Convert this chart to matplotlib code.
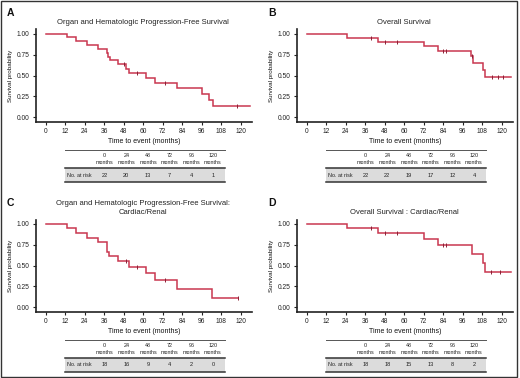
import matplotlib
matplotlib.use("Agg")
import matplotlib.pyplot as plt
from matplotlib.lines import Line2D
from matplotlib.patches import Rectangle
import numpy as np

# ---------------- data ----------------
titles = [
    "Organ and Hematologic Progression-Free Survival",
    "Overall Survival",
    "Organ and Hematologic Progression-Free Survival:\nCardiac/Renal",
    "Overall Survival : Cardiac/Renal",
]
panel_labels = ["A", "B", "C", "D"]

times_A = [0, 13.3, 18.6, 25.2, 32, 37.5, 38.6, 39.6, 44.7, 49.4, 51.5, 61.7, 67.3, 81, 96, 100.7, 102.8]
surv_A = [1.0, 0.955, 0.909, 0.864, 0.818, 0.773, 0.727, 0.682, 0.636, 0.58, 0.526, 0.474, 0.407, 0.347, 0.275, 0.206, 0.139]
cens_A = [48, 56, 73.6, 118]
end_A = 126

times_B = [0, 24.6, 44, 72.2, 81, 100.9, 102.1, 108.3, 109.7]
surv_B = [1.0, 0.95, 0.905, 0.853, 0.797, 0.735, 0.646, 0.57, 0.485]
cens_B = [39.6, 48.2, 55.8, 83.7, 85.5, 101.5, 113.8, 117.9, 121]
end_B = 126

times_C = [0, 13.3, 18.6, 25.2, 32, 37.5, 39, 44.7, 51.5, 61.7, 67.3, 81, 102.5]
surv_C = [1.0, 0.944, 0.889, 0.833, 0.778, 0.667, 0.611, 0.556, 0.486, 0.406, 0.325, 0.217, 0.11]
cens_C = [49.4, 56, 73.6, 118.3]
end_C = 118.3

times_D = [0, 25, 44, 72.2, 81, 102, 108.3, 109.7]
surv_D = [1.0, 0.944, 0.889, 0.817, 0.745, 0.638, 0.532, 0.426]
cens_D = [39.6, 48.2, 55.8, 83.7, 85.5, 113.6, 118.7]
end_D = 126

risk_times = [0, 24, 48, 72, 96, 120]
risk_A = [22, 20, 13, 7, 4, 1]
risk_B = [22, 22, 19, 17, 12, 4]
risk_C = [18, 16, 9, 4, 2, 0]
risk_D = [18, 18, 15, 13, 8, 2]

x_ticks = [0, 12, 24, 36, 48, 60, 72, 84, 96, 108, 120]
y_ticks = [0.0, 0.25, 0.5, 0.75, 1.0]
y_ticklabels = ["0.00", "0.25", "0.50", "0.75", "1.00"]

panels = [
    (times_A, surv_A, cens_A, end_A, risk_A),
    (times_B, surv_B, cens_B, end_B, risk_B),
    (times_C, surv_C, cens_C, end_C, risk_C),
    (times_D, surv_D, cens_D, end_D, risk_D),
]
offsets = [(0, 0), (261, 0), (0, 190), (261, 190)]

# ---------------- figure ----------------
W, H = 520, 378
fig = plt.figure(figsize=(W / 100, H / 100), dpi=100)
fig.patch.set_facecolor("white")

SANS = ["Liberation Sans", "DejaVu Sans"]
RED = "#c9374f"


def fx(x):
    return x / W


def fy(y):
    return 1 - y / H


for i, ((t, s, c, end, risk), (ox, oy)) in enumerate(zip(panels, offsets)):
    left, right = ox + 36, ox + 252
    top, bottom = oy + 29.5, oy + 121.5
    ax = fig.add_axes([fx(left), fy(bottom), (right - left) / W, (bottom - top) / H])
    ax.set_xlim(-6, 127)
    ax.set_ylim(-0.05, 1.05)
    tt = list(t) + [end]
    ss = list(s) + [s[-1]]
    ax.step(tt, ss, where="post", color=RED, lw=1.1, solid_joinstyle="miter")
    cy = [s[np.searchsorted(t, ci, side="right") - 1] for ci in c]
    ax.plot(c, cy, ls="none", marker="|", ms=3, mew=0.7, color="#8a1f35")
    for sp in ["top", "right"]:
        ax.spines[sp].set_visible(False)
    for sp in ["left", "bottom"]:
        ax.spines[sp].set_linewidth(1.2)
        ax.spines[sp].set_color("#222222")
    ax.set_xticks(x_ticks)
    ax.set_xticklabels([str(v) for v in x_ticks], fontfamily=SANS, fontsize=4.8)
    ax.set_yticks(y_ticks)
    ax.set_yticklabels(y_ticklabels, fontfamily=SANS, fontsize=4.8)
    ax.tick_params(axis="both", length=2.5, width=0.8, pad=2, colors="#222222",
                   labelcolor="#222222")
    ax.set_xlabel("Time to event (months)", fontfamily=SANS, fontsize=5.0,
                  labelpad=2.5, color="#111111")
    ax.set_ylabel("Survival probability", fontfamily=SANS, fontsize=4.5,
                  labelpad=3, color="#111111")
    ax.set_facecolor("none")

    # title
    if "\n" in titles[i]:
        fig.text(fx(ox + 143), fy(oy + 18), titles[i], ha="center", va="center",
                 fontfamily=SANS, fontsize=5.5, linespacing=1.35, color="#222222")
    else:
        fig.text(fx(ox + 143), fy(oy + 23), titles[i], ha="center", va="center",
                 fontfamily=SANS, fontsize=5.5, color="#222222")
    # panel label
    fig.text(fx(ox + 7), fy(oy + 13), panel_labels[i], ha="left", va="center",
             fontfamily=SANS, fontsize=7.5, fontweight="bold", color="#111111")

    # risk table
    tl, tr = ox + 65, ox + 225
    fig.patches.append(Rectangle((fx(tl), fy(oy + 182)), (tr - tl) / W, 14 / H,
                                 transform=fig.transFigure, facecolor="#dcdcdc",
                                 edgecolor="none"))
    fig.lines.append(Line2D([fx(tl), fx(tr)], [fy(oy + 149.5)] * 2,
                            transform=fig.transFigure, color="#555555", lw=0.7))
    fig.lines.append(Line2D([fx(tl), fx(tr)], [fy(oy + 168)] * 2,
                            transform=fig.transFigure, color="#333333", lw=1.1))
    fig.lines.append(Line2D([fx(tl), fx(tr)], [fy(oy + 182)] * 2,
                            transform=fig.transFigure, color="#333333", lw=1.1))
    fig.text(fx(ox + 67), fy(oy + 175), "No. at risk", ha="left", va="center",
             fontfamily=SANS, fontsize=3.9, color="#222222")
    for j, (rt, rv) in enumerate(zip(risk_times, risk)):
        cx = ox + 104.7 + j * 21.66
        fig.text(fx(cx), fy(oy + 155.5), str(rt), ha="center", va="center",
                 fontfamily=SANS, fontsize=3.9, color="#222222")
        fig.text(fx(cx), fy(oy + 162.3), "months", ha="center", va="center",
                 fontfamily=SANS, fontsize=3.9, color="#222222")
        fig.text(fx(cx), fy(oy + 175), str(rv), ha="center", va="center",
                 fontfamily=SANS, fontsize=4.1, color="#222222")

# outer frame
fig.patches.append(Rectangle((0.5 / W, 1.5 / H), (W - 4) / W, (H - 2.5) / H,
                             transform=fig.transFigure, facecolor="none",
                             edgecolor="#333333", lw=1.0))

fig.savefig("out.png", dpi=100, facecolor="white")
